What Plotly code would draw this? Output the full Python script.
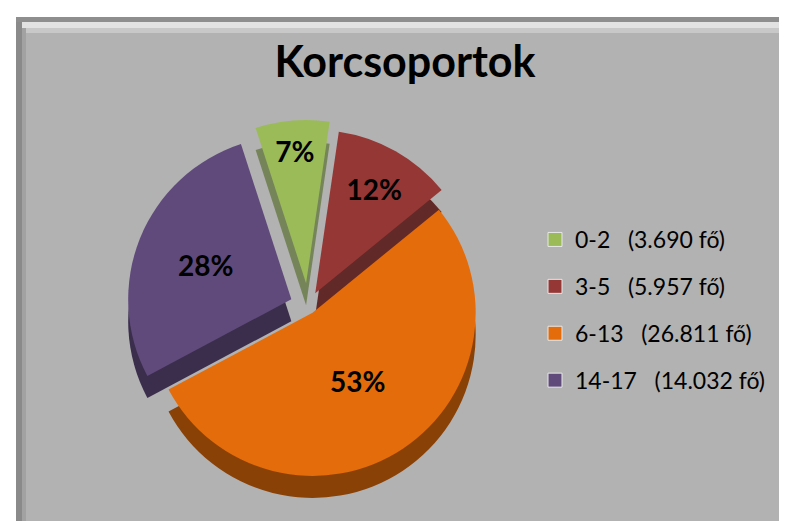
import plotly.graph_objects as go

# Data
categories = ["0-2", "3-5", "6-13", "14-17"]
counts = [3690, 5957, 26811, 14032]
count_labels = ["3.690", "5.957", "26.811", "14.032"]
colors = ["#9BBB59", "#953735", "#E46C0A", "#604A7B"]
side_colors = ["#76845A", "#612928", "#8A4106", "#3B2E4C"]
pulls = [0.14, 0.09, 0.05, 0.11]

W, H = 787, 521
FONT = "Lato"

def px_x(v):
    return v / W

def px_y(v):
    return 1 - v / H

fig = go.Figure()

# pie geometry (pixels)
cx, cy, d = 300, 298, 372
depth = 22

# side / depth layer
fig.add_trace(go.Pie(
    labels=categories, values=counts, sort=False, direction="clockwise",
    rotation=342, pull=pulls,
    marker=dict(colors=side_colors, line=dict(width=0)),
    textinfo="none", hoverinfo="skip", showlegend=False,
    domain=dict(x=[px_x(cx - d / 2), px_x(cx + d / 2)],
                y=[px_y(cy + depth + d / 2), px_y(cy + depth - d / 2)]),
))
# top face
fig.add_trace(go.Pie(
    labels=categories, values=counts, sort=False, direction="clockwise",
    rotation=342, pull=pulls,
    marker=dict(colors=colors, line=dict(width=0)),
    texttemplate="%{percent:.0%}", textposition="inside",
    insidetextorientation="horizontal",
    textfont=dict(family=FONT, size=28, color="black", weight="bold"),
    showlegend=False,
    domain=dict(x=[px_x(cx - d / 2), px_x(cx + d / 2)],
                y=[px_y(cy + d / 2), px_y(cy - d / 2)]),
))

# legend entries
for i, (cat, cl, col) in enumerate(zip(categories, count_labels, colors)):
    fig.add_trace(go.Scatter(
        x=[None], y=[None], mode="markers",
        marker=dict(symbol="square", size=14, color=col,
                    line=dict(color="#e8e8e8", width=1)),
        name=f"{cat}\u00a0\u00a0\u00a0({cl} fő)", legendgroup=f"g{i}",
        showlegend=True, hoverinfo="skip",
    ))

shapes = [
    # main frame
    dict(type="rect", xref="paper", yref="paper", x0=px_x(8), x1=px_x(785),
         y0=0, y1=px_y(9), fillcolor="#B2B2B2", line=dict(width=0), layer="below"),
    # top bevel
    dict(type="rect", xref="paper", yref="paper", x0=px_x(8), x1=px_x(785),
         y0=px_y(14), y1=px_y(9), fillcolor="#8E8E8E", line=dict(width=0), layer="below"),
    dict(type="rect", xref="paper", yref="paper", x0=px_x(14), x1=px_x(785),
         y0=px_y(20), y1=px_y(14), fillcolor="#E2E2E2", line=dict(width=0), layer="below"),
    dict(type="rect", xref="paper", yref="paper", x0=px_x(14), x1=px_x(785),
         y0=px_y(25), y1=px_y(20), fillcolor="#C8C8C8", line=dict(width=0), layer="below"),
    # left bevel
    dict(type="rect", xref="paper", yref="paper", x0=px_x(8), x1=px_x(14),
         y0=0, y1=px_y(14), fillcolor="#8A8A8A", line=dict(width=0), layer="below"),
    dict(type="rect", xref="paper", yref="paper", x0=px_x(14), x1=px_x(18),
         y0=0, y1=px_y(20), fillcolor="#A2A2A2", line=dict(width=0), layer="below"),
    # right bevel
    dict(type="rect", xref="paper", yref="paper", x0=px_x(780), x1=px_x(785),
         y0=0, y1=px_y(14), fillcolor="#9C9C9C", line=dict(width=0), layer="below"),
    # bottom bevel
    dict(type="rect", xref="paper", yref="paper", x0=px_x(14), x1=px_x(785),
         y0=0, y1=px_y(514), fillcolor="#8E8E8E", line=dict(width=0), layer="below"),
]

fig.update_layout(
    width=W, height=H,
    margin=dict(l=0, r=0, t=0, b=0),
    paper_bgcolor="white", plot_bgcolor="rgba(0,0,0,0)",
    shapes=shapes,
    title=dict(text="<b>Korcsoportok</b>", x=px_x(397), xanchor="center",
               y=px_y(54), yanchor="middle",
               font=dict(family=FONT, size=43, color="black")),
    xaxis=dict(visible=False), yaxis=dict(visible=False),
    showlegend=True,
    legend=dict(x=px_x(527), y=px_y(210), xanchor="left", yanchor="top",
                font=dict(family=FONT, size=23, color="black"),
                bgcolor="rgba(0,0,0,0)", tracegroupgap=14, itemclick=False,
                itemwidth=30),
)

fig.write_html("out.html")
